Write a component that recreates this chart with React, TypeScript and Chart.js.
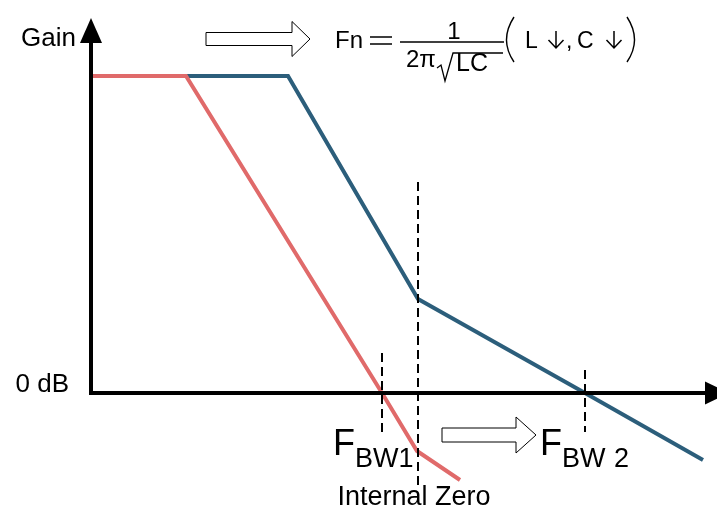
import React, { useEffect, useRef } from "react";
import { Chart, registerables } from "chart.js";

Chart.register(...registerables);

// Data units: x = frequency (arbitrary), y = gain (arbitrary, 0 = 0 dB)
const redX = [0, 9.5, 29.1, 32.6, 36.9];
const redY = [31.7, 31.7, 0, -5.8, -8.7];
const blueX = [9.5, 19.7, 32.7, 49.4, 61.2];
const blueY = [31.7, 31.7, 9.4, 0, -6.7];
const markerX = [29.1, 32.7, 49.4];
const markerTop = [4.0, 21.1, 2.3];
const markerBottom = [-3.9, -9.2, -3.9];

const X_MIN = -9.1;
const X_MAX = 62.6;
const Y_MIN = -11.9;
const Y_MAX = 39.3;

const RED = "#E06A6A";
const BLUE = "#2C5E7B";
const FONT = "'Liberation Sans', Arial, sans-serif";

const pts = (xs: number[], ys: number[]) => xs.map((x, i) => ({ x, y: ys[i] }));

const overlay = {
  id: "overlay",
  afterDatasetsDraw(chart: any) {
    const { ctx, scales } = chart;
    const X = (u: number) => scales.x.getPixelForValue(u);
    const Y = (v: number) => scales.y.getPixelForValue(v);
    ctx.save();

    // axis arrowheads
    ctx.fillStyle = "#000";
    ctx.beginPath();
    ctx.moveTo(X(0), Y(37.5));
    ctx.lineTo(X(1.1), Y(35.0));
    ctx.lineTo(X(-1.1), Y(35.0));
    ctx.closePath();
    ctx.fill();
    ctx.beginPath();
    ctx.moveTo(X(63.8), Y(0));
    ctx.lineTo(X(61.4), Y(1.15));
    ctx.lineTo(X(61.4), Y(-1.15));
    ctx.closePath();
    ctx.fill();

    // hollow arrows
    const hollow = (x0: number, xh: number, xt: number, yc: number, sh: number, hh: number) => {
      ctx.beginPath();
      ctx.moveTo(X(x0), Y(yc + sh));
      ctx.lineTo(X(xh), Y(yc + sh));
      ctx.lineTo(X(xh), Y(yc + hh));
      ctx.lineTo(X(xt), Y(yc));
      ctx.lineTo(X(xh), Y(yc - hh));
      ctx.lineTo(X(xh), Y(yc - sh));
      ctx.lineTo(X(x0), Y(yc - sh));
      ctx.closePath();
      ctx.fillStyle = "#fff";
      ctx.fill();
      ctx.strokeStyle = "#000";
      ctx.lineWidth = 1;
      ctx.stroke();
    };
    hollow(11.5, 20.1, 21.9, 35.4, 0.65, 1.75);
    hollow(35.1, 42.5, 44.5, -4.2, 0.7, 1.8);

    // texts
    const text = (s: string, u: number, v: number, size: number, align: CanvasTextAlign = "left") => {
      ctx.font = `${size}px ${FONT}`;
      ctx.fillStyle = "#000";
      ctx.textAlign = align;
      ctx.textBaseline = "alphabetic";
      ctx.fillText(s, X(u), Y(v));
    };
    text("Gain", -1.5, 34.7, 26, "right");
    text("0 dB", -2.2, 0.1, 26, "right");
    text("F", 24.2, -6.2, 36);
    text("BW1", 26.4, -7.4, 27);
    text("F", 44.9, -6.2, 36);
    text("BW", 47.1, -7.4, 27);
    text("2", 52.3, -7.4, 27);
    text("Internal Zero", 32.3, -11.2, 27, "center");

    // formula
    text("Fn", 24.4, 34.5, 24);
    ctx.strokeStyle = "#000";
    ctx.lineWidth = 1.5;
    ctx.beginPath();
    ctx.moveTo(X(27.9), Y(35.6));
    ctx.lineTo(X(30.1), Y(35.6));
    ctx.moveTo(X(27.9), Y(34.9));
    ctx.lineTo(X(30.1), Y(34.9));
    ctx.moveTo(X(30.9), Y(35.1));
    ctx.lineTo(X(41.3), Y(35.1));
    ctx.stroke();
    text("1", 36.3, 35.4, 24, "center");
    text("2\u03c0", 31.5, 32.6, 24);
    ctx.lineWidth = 1.3;
    ctx.beginPath();
    ctx.moveTo(X(34.6), Y(32.5));
    ctx.lineTo(X(35.0), Y(32.8));
    ctx.lineTo(X(35.4), Y(31.2));
    ctx.lineTo(X(36.2), Y(34.0));
    ctx.lineTo(X(41.2), Y(34.0));
    ctx.stroke();
    text("L", 36.5, 32.2, 25);
    text("C", 37.9, 32.2, 25);
    // parentheses
    ctx.lineWidth = 1.4;
    ctx.beginPath();
    ctx.moveTo(X(42.3), Y(37.6));
    ctx.quadraticCurveTo(X(40.8), Y(35.3), X(42.3), Y(33.1));
    ctx.moveTo(X(53.6), Y(37.6));
    ctx.quadraticCurveTo(X(55.1), Y(35.3), X(53.6), Y(33.1));
    ctx.stroke();
    text("L", 43.4, 34.5, 23);
    text(",", 47.5, 34.5, 23);
    text("C", 48.6, 34.5, 23);
    // down arrows
    const down = (cx: number) => {
      ctx.lineWidth = 1.5;
      ctx.beginPath();
      ctx.moveTo(X(cx), Y(36.2));
      ctx.lineTo(X(cx), Y(34.5));
      ctx.moveTo(X(cx - 0.75), Y(35.3));
      ctx.lineTo(X(cx), Y(34.5));
      ctx.lineTo(X(cx + 0.75), Y(35.3));
      ctx.stroke();
    };
    down(46.5);
    down(52.3);

    ctx.restore();
  },
};

export default function App() {
  const ref = useRef<HTMLCanvasElement | null>(null);
  useEffect(() => {
    if (!ref.current) return;
    const dashed = markerX.map((x, i) => ({
      data: [
        { x, y: markerTop[i] },
        { x, y: markerBottom[i] },
      ],
      borderColor: "#000",
      borderWidth: 2,
      borderDash: [9, 5],
      pointRadius: 0,
      showLine: true,
      fill: false,
    }));
    const chart = new Chart(ref.current, {
      type: "scatter",
      data: {
        datasets: [
          ...dashed,
          {
            data: [{ x: 0, y: -0.2 }, { x: 0, y: 35.2 }],
            borderColor: "#000",
            borderWidth: 4,
            pointRadius: 0,
            showLine: true,
          },
          {
            data: [{ x: -0.2, y: 0 }, { x: 61.5, y: 0 }],
            borderColor: "#000",
            borderWidth: 4,
            pointRadius: 0,
            showLine: true,
          },
          {
            data: pts(redX, redY),
            borderColor: RED,
            borderWidth: 4,
            pointRadius: 0,
            showLine: true,
            borderJoinStyle: "miter",
          },
          {
            data: pts(blueX, blueY),
            borderColor: BLUE,
            borderWidth: 4,
            pointRadius: 0,
            showLine: true,
            borderJoinStyle: "miter",
          },
        ] as any,
      },
      options: {
        animation: false,
        responsive: false,
        events: [],
        layout: { padding: 0 },
        plugins: { legend: { display: false }, tooltip: { enabled: false } },
        scales: {
          x: { type: "linear", min: X_MIN, max: X_MAX, display: false },
          y: { type: "linear", min: Y_MIN, max: Y_MAX, display: false },
        },
      },
      plugins: [overlay],
    });
    return () => chart.destroy();
  }, []);
  return (
    <div style={{ position: "fixed", left: 0, top: 0, width: 717, height: 512, background: "#fff" }}>
      <canvas ref={ref} width={717} height={512} />
    </div>
  );
}
